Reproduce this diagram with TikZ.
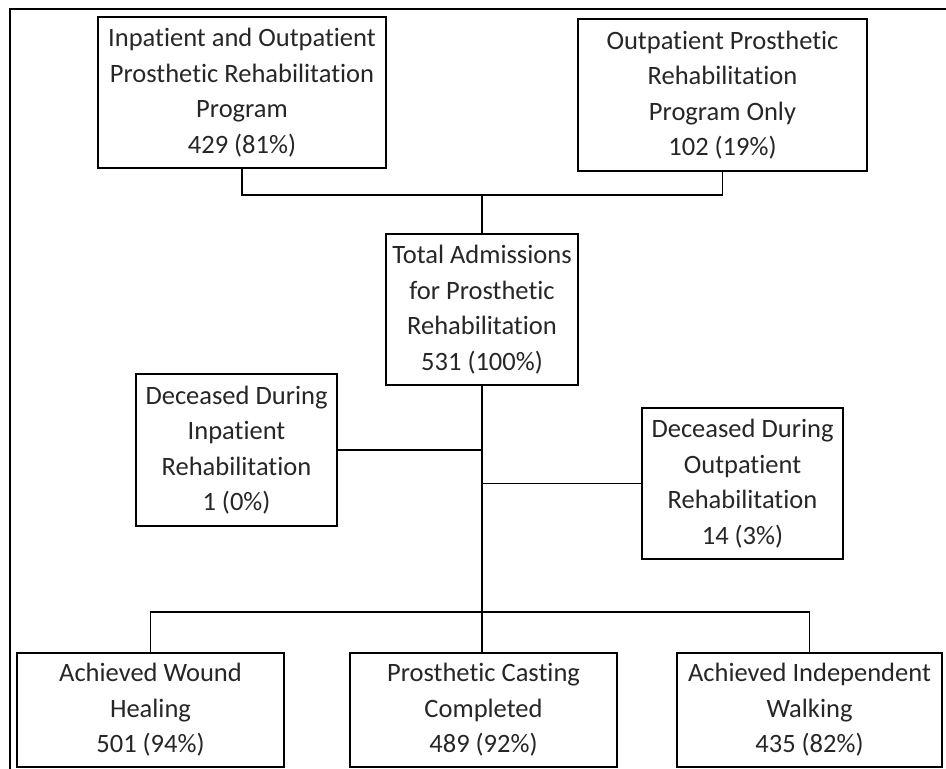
\documentclass[tikz,border=0pt]{standalone}
\usepackage{fontspec}
\setmainfont[Ligatures=NoCommon]{Carlito}
\usepackage{tikz}
\usetikzlibrary{calc}
\tikzset{
  box/.style={draw,line width=1.5pt,align=center,inner sep=0pt,
    font=\fontsize{26.5}{35.5}\selectfont,text=black!85},
  link/.style={line width=1.4pt}
}
% a box of given width and height, centred at a point
\newcommand{\flowbox}[5]{
  \node[box,minimum width=#3pt,minimum height=#4pt] (#1) at (#2) {#5};
}

\begin{document}
\begin{tikzpicture}[x=1pt,y=-1pt]
    \useasboundingbox (0,0) rectangle (946,769);
    \draw[line width=2pt] (10,769) -- (10,9) -- (946,9);% outer frame

    \flowbox{inout}{242,92.5}{288}{151}{Inpatient and Outpatient\\Prosthetic Rehabilitation\\Program\\429 (81\%)}
    \flowbox{outonly}{722.5,95}{289}{152}{Outpatient Prosthetic\\Rehabilitation\\Program Only\\102 (19\%)}
    \flowbox{total}{482,309.5}{192}{151}{Total Admissions\\for Prosthetic\\Rehabilitation\\531 (100\%)}
    \flowbox{decin}{236.5,450}{201}{152}{Deceased During\\Inpatient\\Rehabilitation\\1 (0\%)}
    \flowbox{decout}{742.5,483.5}{201}{151}{Deceased During\\Outpatient\\Rehabilitation\\14 (3\%)}
    \flowbox{wound}{150.5,710}{267}{114}{Achieved Wound\\Healing\\501 (94\%)}
    \flowbox{casting}{483.5,710}{267}{114}{Prosthetic Casting\\Completed\\489 (92\%)}
    \flowbox{walking}{809.5,710}{265}{114}{Achieved Independent\\Walking\\435 (82\%)}

    \coordinate (join) at (482,195);
    \coordinate (bar) at (482,612);

    \draw[link] (inout.south) |- (join) -| (outonly.south);
    \draw[link] (join) -- (total.north);
    \draw[line width=1.9pt] (total.south) -- (total.south |- casting.north);% main trunk
    \draw[link] (decin.east) -- (decin.east -| total.south);
    \draw[link] (decout.west) -- (decout.west -| total.south);
    \draw[link] (wound.north) |- (bar) -| (walking.north);
\end{tikzpicture}
\end{document}
